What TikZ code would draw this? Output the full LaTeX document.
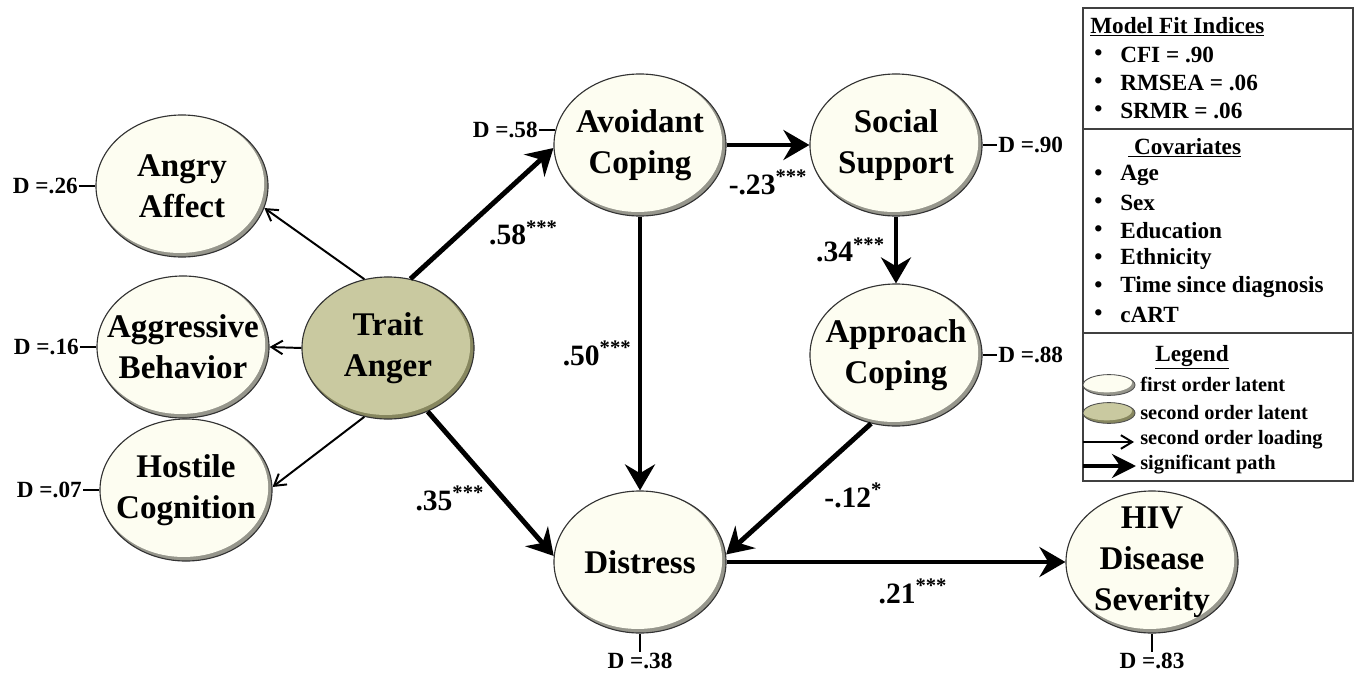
\documentclass[tikz,border=0pt]{standalone}
\usepackage{fontspec}
\setmainfont{Liberation Serif}
\usetikzlibrary{positioning}
\usetikzlibrary{shapes.geometric}
\usetikzlibrary{arrows.meta}

\definecolor{firstfill}{RGB}{253,253,241}
\definecolor{firstshade}{RGB}{150,150,140}
\definecolor{secondfill}{RGB}{201,201,160}
\definecolor{secondshade}{RGB}{135,135,95}

\begin{document}
\begin{tikzpicture}[
x=0.025cm, y=-0.025cm,
nodetext/.style={font=\fontsize{23.5}{29}\selectfont\bfseries, align=center, inner sep=0pt},
shadowed/.style n args={4}{fill=#1, path picture={\fill[#2] ([xshift=-1.6pt,yshift=1.6pt]path picture bounding box.center) ellipse [x radius=#3, y radius=#4];}},
firstnode/.style={ellipse, draw=black!80, line width=0.8pt, minimum width=4.3cm, minimum height=3.55cm, inner sep=0pt, shadowed={firstshade}{firstfill}{2.11cm}{1.73cm}, label={[nodetext]center:#1}},
secondnode/.style={firstnode={#1}, shadowed={secondshade}{secondfill}{2.11cm}{1.73cm}},
keynode/.style={ellipse, draw=black!70, line width=0.6pt, minimum width=1.3cm, minimum height=0.52cm, inner sep=0pt},
dlabel/.style={font=\fontsize{16.5}{19}\selectfont\bfseries, inner sep=1pt},
coef/.style={font=\fontsize{21}{25}\selectfont\bfseries},
keytext/.style={font=\fontsize{16.5}{20}\selectfont\bfseries, anchor=west, inner sep=0pt},
keysmall/.style={keytext, font=\fontsize{14.5}{18}\selectfont\bfseries},
loading/.style={-{Straight Barb[length=0.28cm, width=0.34cm]}, line width=1.4pt},
sigpath/.style={-{Stealth[length=0.65cm, width=0.75cm, inset=0.22cm]}, line width=3.5pt},
tick/.style={line width=1.2pt},
]
\useasboundingbox (0,0) rectangle (1357,677);

%Nodes
\node[firstnode={Angry\\Affect}]           (angry)    at (182,186)  {};
\node[firstnode={Aggressive\\Behavior}]    (aggr)     at (183,347)  {};
\node[firstnode={Hostile\\Cognition}]      (hostile)  at (186,490)  {};
\node[secondnode={Trait\\Anger}]           (anger)    at (388,348)  {};
\node[firstnode={Avoidant\\Coping}]        (avoid)    at (640,145)  {};
\node[firstnode={Social\\Support}]         (social)   at (896,145)  {};
\node[firstnode={Approach\\Coping}]        (approach) at (896,355)  {};
\node[firstnode={Distress}]                (distress) at (640,562)  {};
\node[firstnode={HIV\\Disease\\Severity}]  (hiv)      at (1152,562) {};

%Disturbances
\node[dlabel, left=0.4cm of angry]     (dangry)    {D =.26};
\node[dlabel, left=0.4cm of aggr]      (daggr)     {D =.16};
\node[dlabel, left=0.4cm of hostile]   (dhostile)  {D =.07};
\node[dlabel, anchor=east] (davoid) at ([xshift=-0.4cm]avoid.170) {D =.58};
\node[dlabel, right=0.35cm of social]  (dsocial)   {D =.90};
\node[dlabel, right=0.35cm of approach] (dapproach) {D =.88};
\node[dlabel, below=0.45cm of distress] (ddistress) {D =.38};
\node[dlabel, below=0.45cm of hiv]     (dhiv)      {D =.83};

\draw[tick] (dangry) -- (angry);
\draw[tick] (daggr) -- (aggr);
\draw[tick] (dhostile) -- (hostile);
\draw[tick] (davoid) -- (avoid.170);
\draw[tick] (dsocial) -- (social);
\draw[tick] (dapproach) -- (approach);
\draw[tick] (ddistress) -- (distress);
\draw[tick] (dhiv) -- (hiv);

%Lines
\draw[loading] (anger.109) -- (angry.-15);
\draw[loading] (anger.west) -- (aggr.east);
\draw[loading] (anger.-109) -- (hostile.2);
\draw[sigpath] (anger.72) -- (avoid.182) node[coef, midway, below right] {.58\textsuperscript{***}};
\draw[sigpath] (anger.-58) -- (distress.176) node[coef, pos=0.6, left=0.3cm] {.35\textsuperscript{***}};
\draw[sigpath] (avoid.east) -- (social.west) node[coef, midway, below=0.45cm] {-.23\textsuperscript{***}};
\draw[sigpath] (avoid.south) -- (distress.north) node[coef, midway, left=1pt] {.50\textsuperscript{***}};
\draw[sigpath] (social.south) -- (approach.north) node[coef, midway, left=0.1cm] {.34\textsuperscript{***}};
\draw[sigpath] (approach.-110) -- (distress.5) node[coef, pos=0.55, right=0.65cm] {-.12\textsuperscript{*}};
\draw[sigpath] (distress.east) -- (hiv.west) node[coef, pos=0.55, below=0.25cm] {.21\textsuperscript{***}};

%Legend box
\coordinate (boxnw) at (1083,8);
\coordinate (boxse) at (1353,481);
\draw[line width=0.8pt, black!75] (boxnw) rectangle (boxse);
\draw[line width=0.8pt, black!75] (1083,129) -- (1353,129);
\draw[line width=0.8pt, black!75] (1083,333) -- (1353,333);

\node[keytext] (fithead) at (1090,27) {\underline{Model Fit Indices}};
\foreach \txt [count=\i] in {CFI = .90, RMSEA = .06, SRMR = .06} {
  \node[keytext] at (1094,27+28*\i) {\textbullet};
  \node[keytext] at (1120,27+28*\i) {\txt};
}
\node[keytext] (covhead) at (1128,148) {\underline{\ Covariates}};
\foreach \txt [count=\i] in {Age, Sex, Education, Ethnicity, Time since diagnosis, cART} {
  \node[keytext] at (1094,147+28*\i) {\textbullet};
  \node[keytext] at (1120,147+28*\i) {\txt};
}
\node[keytext] (keyhead) at (1155,357) {\underline{Legend}};

\node[keynode, shadowed={firstshade}{firstfill}{0.63cm}{0.24cm}]   (keyfirst)  at (1109,385) {};
\node[keynode, shadowed={secondshade}{secondfill}{0.63cm}{0.24cm}] (keysecond) at (1109,413) {};
\coordinate (loadstart) at (1083,442);
\coordinate (loadend)   at (1134,442);
\coordinate (sigstart)  at (1083,466);
\coordinate (sigend)    at (1136,466);
\draw[loading] (loadstart) -- (loadend);
\draw[sigpath, -{Stealth[length=0.6cm, width=0.6cm, inset=0.2cm]}] (sigstart) -- (sigend);

\node[keysmall] (txtfirst)  at (1140,384) {first order latent};
\node[keysmall] (txtsecond) at (1140,413) {second order latent};
\node[keysmall] (txtload)   at (1140,440) {second order loading};
\node[keysmall] (txtsig)    at (1140,465) {significant path};
\end{tikzpicture}
\end{document}
